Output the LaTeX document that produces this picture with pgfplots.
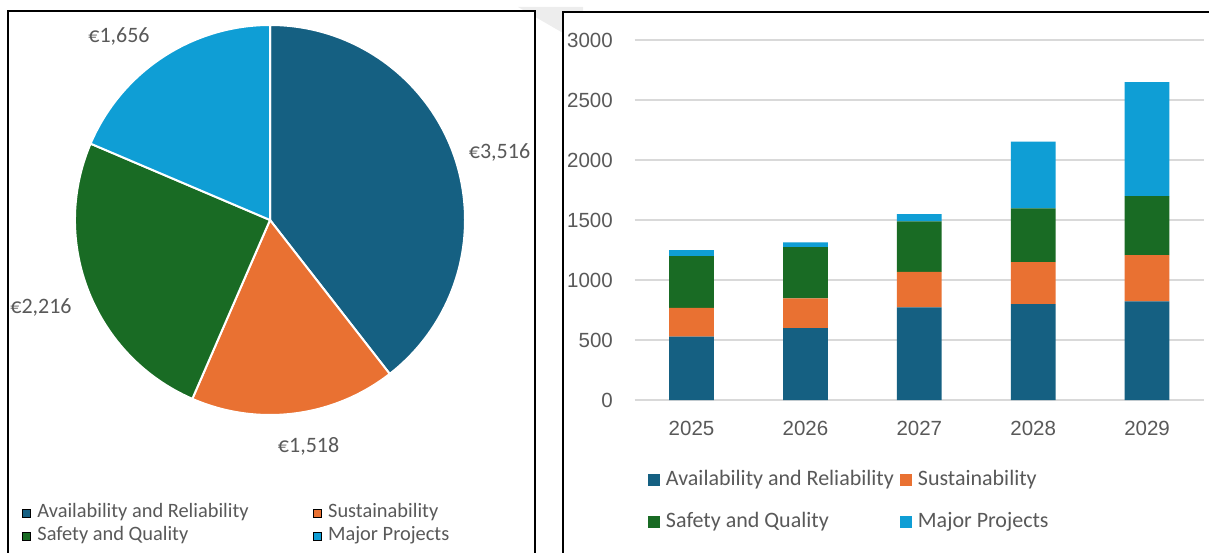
\documentclass[border=0pt]{standalone}
\usepackage{fontspec}
\setmainfont{Carlito}
\newfontfamily\arialfont{Liberation Sans}
\usepackage{pgfplots}
\usepackage{pgfplotstable}
\pgfplotsset{compat=1.18}
\definecolor{cA}{HTML}{156082}
\definecolor{cS}{HTML}{E97132}
\definecolor{cQ}{HTML}{196B24}
\definecolor{cM}{HTML}{0F9ED5}
\definecolor{tgray}{HTML}{595959}
\definecolor{gridc}{HTML}{D9D9D9}
\definecolor{wm}{HTML}{EDEDED}

% stacked bar data (columns: year index, Availability, Sustainability, Safety, Major)
\pgfplotstableread{
cat A S Q M
0 529 238 432 50
1 600 247 426 40
2 771 297 420 60
3 800 350 447 556
4 821 386 491 950
}\bardata

% pie data
\pgfplotstableread{
value
3516
1518
2216
1656
}\piedata

\begin{document}
\begin{tikzpicture}[x=1pt,y=1pt]
\path[use as bounding box] (0,0) rectangle (1209,552);
\fill[wm] (518,545) -- (583,545) -- (583,530) -- (563,519) -- cycle;
\filldraw[fill=white, draw=black, line width=2pt] (8,-5) rectangle (535,541);
\filldraw[fill=white, draw=black, line width=2pt] (563,-5) rectangle (1215,540);

\pgfplotstablegetelem{0}{value}\of\piedata \let\pA\pgfplotsretval
\pgfplotstablegetelem{1}{value}\of\piedata \let\pS\pgfplotsretval
\pgfplotstablegetelem{2}{value}\of\piedata \let\pQ\pgfplotsretval
\pgfplotstablegetelem{3}{value}\of\piedata \let\pM\pgfplotsretval
\pgfmathsetmacro\ptot{\pA+\pS+\pQ+\pM}
\pgfmathsetmacro\aA{90-\pA/\ptot*360}
\pgfmathsetmacro\aB{\aA-\pS/\ptot*360}
\pgfmathsetmacro\aC{\aB-\pQ/\ptot*360}

\begin{axis}[
  at={(75pt,137pt)}, anchor=south west,
  x=1pt, y=1pt,
  xmin=-195, xmax=195, ymin=-195, ymax=195,
  hide axis, clip=false,
  legend columns=2,
  legend cell align=left,
  legend image code/.code={\fill[#1] (0pt,0pt) rectangle (8pt,8pt);},
  legend style={
    at={(axis cs:-248,-308.5)}, anchor=west,
    draw=none, fill=none, inner sep=0pt, outer sep=0pt,
    column sep=7pt,
    /tikz/every even column/.append style={column sep=64pt},
    nodes={inner sep=0pt, text height=11.5pt, text depth=11.5pt},
    font=\fontsize{20.4}{24}\selectfont, text=tgray},
]
\filldraw[fill=cA, draw=white, line width=2pt, line join=round]
  (axis cs:0,0) -- ++(90:195pt) arc[start angle=90, end angle=\aA, radius=195pt] -- cycle;
\filldraw[fill=cS, draw=white, line width=2pt, line join=round]
  (axis cs:0,0) -- ++(\aA:195pt) arc[start angle=\aA, end angle=\aB, radius=195pt] -- cycle;
\filldraw[fill=cQ, draw=white, line width=2pt, line join=round]
  (axis cs:0,0) -- ++(\aB:195pt) arc[start angle=\aB, end angle=\aC, radius=195pt] -- cycle;
\filldraw[fill=cM, draw=white, line width=2pt, line join=round]
  (axis cs:0,0) -- ++(\aC:195pt) arc[start angle=\aC, end angle=-270, radius=195pt] -- cycle;
\node[text=tgray, font=\fontsize{22}{26}\selectfont] at (axis cs:229.5,68) {€3,516};
\node[text=tgray, font=\fontsize{22}{26}\selectfont] at (axis cs:38.6,-226) {€1,518};
\node[text=tgray, font=\fontsize{22}{26}\selectfont] at (axis cs:-229,-87) {€2,216};
\node[text=tgray, font=\fontsize{22}{26}\selectfont] at (axis cs:-151,184) {€1,656};
\addlegendimage{fill=cA}\addlegendentry{Availability and Reliability}
\addlegendimage{fill=cS}\addlegendentry{Sustainability}
\addlegendimage{fill=cQ}\addlegendentry{Safety and Quality}
\addlegendimage{fill=cM}\addlegendentry{Major Projects}
\end{axis}

\begin{axis}[
  at={(634.6pt,152pt)}, anchor=south west,
  scale only axis, width=569.4pt, height=360pt,
  xmin=-0.5, xmax=4.5, ymin=0, ymax=3000,
  ybar stacked, bar width=44.7pt,
  axis line style={draw=none},
  major tick length=0pt,
  ymajorgrids, grid style={gridc, line width=1.5pt},
  xtick={0,1,2,3,4}, xticklabels={2025,2026,2027,2028,2029},
  ytick={0,500,1000,1500,2000,2500,3000},
  /pgf/number format/assume math mode=true,
  /pgf/number format/1000 sep={},
  tick label style={font=\arialfont\fontsize{20.5}{24}\selectfont, text=tgray, inner sep=0pt},
  yticklabel style={xshift=-21.6pt},
  xticklabel style={yshift=-20.6pt},
  legend columns=2,
  legend cell align=left,
  legend image code/.code={\fill[#1] (0pt,0pt) rectangle (12pt,12pt);},
  legend style={
    at={(axis description cs:0.0235,-0.2972)}, anchor=west,
    draw=none, fill=none, inner sep=0pt, outer sep=0pt,
    column sep=6pt,
    nodes={inner sep=0pt, text height=21pt, text depth=21pt},
    font=\fontsize{22}{26}\selectfont, text=tgray},
]
\addplot[fill=cA, draw=none] table[x=cat, y=A] {\bardata};
\addplot[fill=cS, draw=none] table[x=cat, y=S] {\bardata};
\addplot[fill=cQ, draw=none] table[x=cat, y=Q] {\bardata};
\addplot[fill=cM, draw=none] table[x=cat, y=M] {\bardata};
\legend{Availability and Reliability, Sustainability, Safety and Quality, Major Projects}
\end{axis}
\end{tikzpicture}
\end{document}
